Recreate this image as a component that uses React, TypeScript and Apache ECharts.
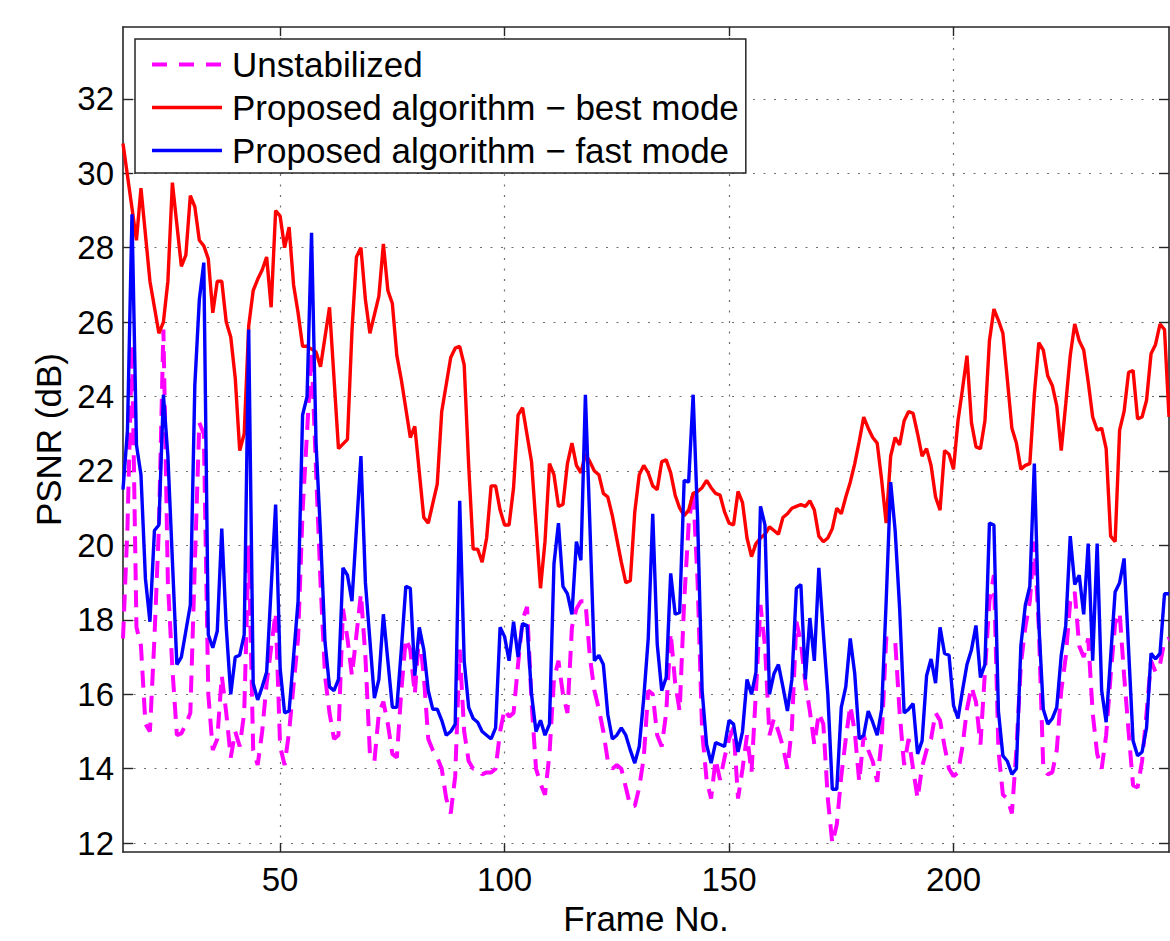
import React, { useEffect, useRef } from "react";
import * as echarts from "echarts";

const FONT = "'Liberation Sans', Arial, Helvetica, sans-serif";

const xTicks = [50, 100, 150, 200];
const yTicks = [12, 14, 16, 18, 20, 22, 24, 26, 28, 30, 32];
const X_MIN = 15;
const X_MAX = 248;
const Y_MIN = 11.76;
const Y_MAX = 33.93;

const seriesNames = [
  "Unstabilized",
  "Proposed algorithm \u2212 best mode",
  "Proposed algorithm \u2212 fast mode",
];

// [frame, PSNR dB]
const unstabilized: [number, number][] = [
  [15, 17.5], [16, 20.5], [17, 25.4], [18, 17.8], [19, 17.3], [20, 15.2], [21, 15.0], [22, 17.5], [23, 20.5], [24, 25.8],
  [25, 19.0], [26, 16.7], [27, 14.9], [28, 14.95], [29, 15.2], [30, 15.5], [31, 19.5], [32, 23.3], [33, 23.0], [34, 16.0],
  [35, 14.5], [36, 14.8], [37, 16.5], [38, 15.5], [39, 14.3], [40, 15.0], [41, 14.6], [42, 15.5], [43, 20.0], [44, 14.5],
  [45, 14.1], [46, 15.0], [47, 16.3], [49, 18.2], [50, 14.6], [51, 14.1], [52, 15.0], [54, 17.5], [55, 20.9], [57, 25.2],
  [58, 22.0], [59, 19.0], [60, 16.5], [61, 15.5], [62, 14.8], [63, 14.9], [64, 18.3], [65, 17.5], [66, 16.5], [68, 18.7],
  [69, 17.0], [70, 14.4], [71, 14.2], [72, 15.5], [73, 15.8], [74, 15.2], [75, 14.4], [76, 14.3], [77, 16.1], [78, 17.5],
  [79, 17.2], [80, 16.0], [81, 17.65], [82, 16.5], [83, 14.8], [84, 14.5], [85, 14.3], [86, 14.0], [87, 13.2], [88, 12.8],
  [89, 13.8], [90, 17.2], [91, 15.0], [92, 14.2], [93, 14.0], [94, 14.0], [95, 13.85], [96, 13.9], [97, 13.9], [98, 14.0],
  [99, 15.0], [100, 15.6], [101, 15.4], [102, 15.5], [103, 16.8], [104, 18.0], [105, 18.35], [106, 15.8], [107, 14.0], [108, 13.6],
  [109, 13.3], [110, 14.4], [111, 16.4], [112, 16.9], [113, 16.0], [114, 15.5], [115, 17.8], [116, 18.3], [117, 18.5], [118, 18.5],
  [119, 17.0], [120, 16.1], [121, 15.6], [122, 15.0], [123, 14.2], [124, 14.0], [125, 14.1], [126, 14.0], [127, 13.5], [128, 13.0],
  [129, 13.0], [130, 13.5], [131, 14.3], [132, 16.1], [133, 16.0], [134, 14.9], [135, 14.6], [136, 15.5], [137, 17.65], [138, 16.3],
  [139, 15.55], [140, 18.5], [141, 20.55], [142, 21.5], [143, 19.0], [144, 15.0], [145, 13.7], [146, 13.2], [147, 14.25], [148, 13.7],
  [149, 14.3], [150, 14.8], [151, 15.1], [152, 13.2], [153, 14.0], [154, 14.9], [155, 13.9], [156, 16.1], [157, 18.4], [158, 17.3],
  [159, 14.9], [160, 15.35], [161, 15.0], [162, 14.6], [163, 14.0], [164, 15.1], [165, 17.95], [166, 17.4], [167, 16.3], [168, 15.55],
  [169, 14.65], [170, 15.5], [171, 15.2], [172, 13.2], [173, 12.0], [174, 12.5], [175, 13.8], [176, 14.8], [177, 15.7], [178, 15.0],
  [179, 13.65], [180, 14.9], [181, 14.5], [182, 14.2], [183, 13.65], [184, 14.8], [185, 17.5], [186, 17.5], [187, 17.45], [188, 15.5],
  [189, 14.1], [190, 14.8], [191, 14.0], [192, 13.2], [193, 14.05], [194, 14.5], [195, 14.8], [196, 15.5], [197, 15.3], [198, 14.6],
  [199, 14.0], [200, 13.8], [201, 13.9], [202, 14.6], [203, 15.6], [204, 16.2], [205, 15.8], [206, 14.65], [207, 16.6], [208, 18.5],
  [209, 19.2], [210, 14.5], [211, 13.3], [212, 13.2], [213, 12.8], [214, 14.5], [215, 16.8], [216, 17.8], [217, 18.5], [218, 20.1],
  [219, 17.8], [220, 14.0], [221, 13.85], [222, 13.9], [223, 14.5], [224, 16.1], [225, 17.0], [226, 18.5], [227, 18.75], [228, 17.3],
  [229, 17.0], [230, 17.5], [231, 15.5], [232, 14.4], [233, 14.0], [234, 14.9], [235, 16.5], [236, 17.9], [237, 18.2], [238, 16.5],
  [239, 15.0], [240, 13.55], [241, 13.5], [242, 14.2], [243, 15.5], [244, 16.9], [245, 16.6], [246, 16.8], [247, 17.45], [248, 17.5],
];

const bestMode: [number, number][] = [
  [15, 30.8], [18, 28.2], [19, 29.6], [21, 27.1], [23, 25.7], [24, 26.0], [25, 27.1], [26, 29.75], [28, 27.5], [29, 27.8],
  [30, 29.4], [31, 29.1], [32, 28.2], [33, 28.05], [34, 27.7], [35, 26.25], [36, 27.1], [37, 27.1], [38, 26.0], [39, 25.6],
  [40, 24.5], [41, 22.55], [42, 23.0], [43, 25.9], [44, 26.85], [45, 27.15], [46, 27.4], [47, 27.75], [48, 26.4], [49, 29.0],
  [50, 28.85], [51, 28.0], [52, 28.55], [53, 27.0], [54, 26.25], [55, 25.35], [56, 25.35], [58, 25.2], [59, 24.8], [61, 26.4],
  [63, 22.6], [65, 22.85], [66, 25.75], [67, 27.75], [68, 28.0], [69, 26.6], [70, 25.7], [72, 26.7], [73, 28.1], [74, 26.85],
  [75, 26.5], [76, 25.1], [77, 24.45], [79, 22.9], [80, 23.2], [82, 20.75], [83, 20.6], [85, 21.65], [86, 23.6], [88, 25.05],
  [89, 25.3], [90, 25.35], [91, 24.85], [92, 22.15], [93, 19.9], [94, 19.9], [95, 19.55], [96, 20.2], [97, 21.6], [98, 21.6],
  [99, 20.95], [100, 20.55], [101, 20.55], [102, 21.55], [103, 23.5], [104, 23.7], [106, 22.25], [108, 18.85], [109, 20.1], [110, 22.2],
  [111, 21.9], [112, 21.05], [113, 21.1], [114, 22.2], [115, 22.75], [116, 22.15], [117, 21.95], [118, 22.45], [119, 22.25], [120, 22.0],
  [121, 21.9], [122, 21.4], [123, 21.3], [124, 20.8], [126, 19.55], [127, 19.0], [128, 19.05], [129, 20.9], [130, 21.9], [131, 22.15],
  [132, 21.95], [133, 21.6], [134, 21.5], [135, 22.25], [136, 22.3], [137, 21.95], [138, 21.35], [139, 21.0], [140, 20.8], [141, 20.95],
  [142, 21.4], [143, 21.45], [144, 21.55], [145, 21.75], [146, 21.55], [147, 21.4], [148, 21.35], [149, 20.9], [150, 20.6], [151, 20.55],
  [152, 21.45], [153, 21.15], [154, 20.2], [155, 19.7], [156, 20.05], [157, 20.2], [158, 20.3], [159, 20.5], [160, 20.4], [161, 20.3],
  [162, 20.75], [163, 20.85], [164, 21.0], [165, 21.05], [166, 21.1], [167, 21.05], [168, 21.2], [169, 20.95], [170, 20.25], [171, 20.1],
  [172, 20.2], [173, 20.45], [174, 21.0], [175, 20.85], [176, 21.3], [177, 21.7], [178, 22.2], [179, 22.8], [180, 23.45], [181, 23.15],
  [182, 22.9], [183, 22.75], [184, 21.75], [185, 20.6], [186, 22.4], [187, 22.9], [188, 22.7], [189, 23.35], [190, 23.6], [191, 23.55],
  [192, 23.0], [193, 22.4], [194, 22.6], [195, 22.15], [196, 21.3], [197, 20.95], [198, 22.55], [199, 22.45], [200, 22.05], [201, 23.35],
  [202, 24.2], [203, 25.1], [204, 23.3], [205, 22.65], [206, 22.6], [207, 23.35], [208, 25.5], [209, 26.35], [210, 26.05], [211, 25.7],
  [212, 24.45], [213, 23.15], [214, 22.75], [215, 22.05], [216, 22.15], [217, 22.2], [218, 24.05], [219, 25.45], [220, 25.25], [221, 24.55],
  [222, 24.3], [223, 23.75], [224, 22.55], [225, 23.8], [226, 25.1], [227, 25.95], [228, 25.5], [229, 25.25], [230, 24.4], [231, 23.45],
  [232, 23.1], [233, 23.15], [234, 22.6], [235, 20.25], [236, 20.1], [237, 23.1], [238, 23.6], [239, 24.65], [240, 24.7], [241, 23.4],
  [242, 23.45], [243, 23.9], [244, 25.15], [245, 25.4], [246, 25.95], [247, 25.8], [248, 23.45],
];

const fastMode: [number, number][] = [
  [15, 21.5], [16, 23.1], [17, 28.9], [18, 22.7], [19, 21.9], [20, 19.1], [21, 17.95], [22, 20.4], [23, 20.55], [24, 24.05],
  [25, 22.4], [27, 16.8], [28, 17.0], [29, 17.7], [30, 18.4], [31, 24.3], [32, 26.6], [33, 27.6], [34, 17.6], [35, 17.25],
  [36, 17.7], [37, 20.45], [38, 17.8], [39, 16.0], [40, 17.0], [41, 17.05], [42, 17.6], [43, 25.8], [44, 16.3], [45, 15.85],
  [46, 16.2], [47, 16.6], [49, 21.1], [50, 16.7], [51, 15.5], [52, 15.55], [54, 18.5], [55, 23.5], [56, 24.0], [57, 28.4],
  [58, 22.75], [59, 20.3], [60, 17.4], [61, 16.2], [62, 16.1], [63, 16.4], [64, 19.4], [65, 19.2], [66, 18.5], [68, 22.4],
  [69, 19.0], [71, 15.9], [72, 16.4], [73, 18.15], [74, 16.9], [75, 15.65], [76, 15.65], [77, 17.2], [78, 18.9], [79, 18.85],
  [80, 16.5], [81, 17.8], [82, 17.2], [83, 16.1], [84, 15.6], [85, 15.6], [86, 15.3], [87, 14.9], [88, 15.0], [89, 15.2],
  [90, 21.2], [91, 16.9], [92, 15.65], [93, 15.35], [94, 15.25], [95, 15.0], [96, 14.9], [97, 14.8], [98, 15.1], [99, 17.8],
  [100, 17.55], [101, 16.9], [102, 17.95], [103, 17.0], [104, 17.9], [105, 17.85], [106, 16.0], [107, 15.0], [108, 15.3], [109, 14.9],
  [110, 15.2], [111, 19.5], [112, 20.6], [113, 18.9], [114, 18.7], [115, 18.15], [116, 20.1], [117, 19.6], [118, 24.05], [119, 20.55],
  [120, 16.9], [121, 17.05], [122, 16.8], [123, 15.45], [124, 14.8], [125, 14.9], [126, 15.1], [127, 14.9], [128, 14.5], [129, 14.15],
  [130, 14.6], [131, 15.9], [132, 17.5], [133, 20.85], [134, 17.35], [135, 16.1], [136, 16.45], [137, 19.25], [138, 18.15], [139, 18.2],
  [140, 21.75], [141, 21.7], [142, 24.05], [143, 20.7], [144, 16.1], [145, 14.65], [146, 14.15], [147, 14.7], [148, 14.65], [149, 14.6],
  [150, 15.3], [151, 15.2], [152, 14.45], [153, 15.0], [154, 16.4], [155, 16.0], [156, 16.6], [157, 21.05], [158, 20.55], [159, 16.0],
  [160, 16.55], [161, 16.8], [162, 16.2], [163, 15.55], [164, 16.4], [165, 18.85], [166, 18.95], [167, 16.4], [168, 18.05], [169, 16.9],
  [170, 19.4], [171, 17.65], [172, 16.0], [173, 13.45], [174, 13.45], [175, 15.65], [176, 16.2], [177, 17.5], [178, 16.55], [179, 14.8],
  [180, 14.9], [181, 15.55], [182, 15.25], [183, 14.9], [184, 15.6], [185, 18.5], [186, 21.7], [187, 20.4], [188, 18.3], [189, 15.5],
  [190, 15.6], [191, 15.75], [192, 14.4], [193, 14.75], [194, 16.5], [195, 16.95], [196, 16.3], [197, 17.8], [198, 17.1], [199, 17.05],
  [200, 15.7], [201, 15.35], [202, 16.1], [203, 16.8], [204, 17.2], [205, 17.85], [206, 16.45], [207, 16.8], [208, 20.6], [209, 20.55],
  [210, 15.55], [211, 14.35], [212, 14.2], [213, 13.85], [214, 14.0], [215, 17.3], [216, 18.4], [217, 18.9], [218, 22.2], [219, 17.9],
  [220, 15.6], [221, 15.2], [222, 15.35], [223, 15.65], [224, 17.05], [225, 17.85], [226, 20.25], [227, 18.95], [228, 19.2], [229, 18.15],
  [230, 20.05], [231, 16.9], [232, 20.05], [233, 16.1], [234, 15.25], [235, 17.0], [236, 18.75], [237, 19.0], [238, 19.65], [239, 17.2],
  [240, 14.75], [241, 14.35], [242, 14.45], [243, 15.1], [244, 17.1], [245, 16.95], [246, 17.1], [247, 18.7], [248, 18.7],
];

const AXIS_COLOR = "#262626";

export default function App() {
  const ref = useRef<HTMLDivElement>(null);

  useEffect(() => {
    if (!ref.current) return;
    const chart = echarts.init(ref.current, undefined, { renderer: "svg" });

    const axisLine = { show: true, onZero: false, lineStyle: { color: AXIS_COLOR, width: 1.6 } };
    const tickStyle = { color: AXIS_COLOR, width: 1.4 };
    const gridLine = { show: true, lineStyle: { color: "#6e6e6e", width: 1.2, type: [2, 8.5] as any } };

    chart.setOption({
      animation: false,
      backgroundColor: "#ffffff",
      grid: { left: 123, right: 1, top: 27, bottom: 85 },
      legend: {
        show: true,
        orient: "vertical",
        left: 135,
        top: 39,
        itemWidth: 70,
        itemHeight: 14,
        itemGap: 8,
        padding: [8, 7, 5, 15],
        backgroundColor: "#ffffff",
        borderColor: AXIS_COLOR,
        borderWidth: 1.5,
        borderRadius: 0,
        z: 10,
        itemStyle: { opacity: 0, borderWidth: 0 },
        textStyle: { fontSize: 35, fontFamily: FONT, color: "#000", padding: [0, 0, 0, 5] },
        data: [
          { name: seriesNames[0], lineStyle: { width: 4, color: "#ff00ff", type: [15, 12] }, itemStyle: { opacity: 0 } },
          { name: seriesNames[1], lineStyle: { width: 3.5, color: "#ff0000" }, itemStyle: { opacity: 0 } },
          { name: seriesNames[2], lineStyle: { width: 3.5, color: "#0000ff" }, itemStyle: { opacity: 0 } },
        ],
      },
      xAxis: [
        {
          type: "value",
          min: X_MIN,
          max: X_MAX,
          position: "bottom",
          axisLine,
          axisTick: { show: true, inside: true, length: 9, customValues: xTicks, lineStyle: tickStyle },
          axisLabel: { show: true, customValues: xTicks, fontSize: 33, margin: 11, color: "#000", fontFamily: FONT },
          splitLine: gridLine,
          name: "Frame No.",
          nameLocation: "middle",
          nameGap: 46,
          nameTextStyle: { fontSize: 35, fontFamily: FONT, color: "#000" },
        },
        {
          type: "value",
          min: X_MIN,
          max: X_MAX,
          position: "top",
          axisLine,
          axisTick: { show: true, inside: true, length: 9, customValues: xTicks, lineStyle: tickStyle },
          axisLabel: { show: false },
          splitLine: { show: false },
        },
      ],
      yAxis: [
        {
          type: "value",
          min: Y_MIN,
          max: Y_MAX,
          position: "left",
          axisLine,
          axisTick: { show: true, inside: true, length: 10, customValues: yTicks, lineStyle: tickStyle },
          axisLabel: { show: true, customValues: yTicks, fontSize: 33, margin: 9, color: "#000", fontFamily: FONT },
          splitLine: gridLine,
          name: "PSNR (dB)",
          nameLocation: "middle",
          nameGap: 57,
          nameTextStyle: { fontSize: 35, fontFamily: FONT, color: "#000" },
        },
        {
          type: "value",
          min: Y_MIN,
          max: Y_MAX,
          position: "right",
          axisLine,
          axisTick: { show: true, inside: true, length: 10, customValues: yTicks, lineStyle: tickStyle },
          axisLabel: { show: false },
          splitLine: { show: false },
        },
      ],
      series: [
        {
          name: seriesNames[0],
          type: "line",
          data: unstabilized,
          symbol: "none",
          showSymbol: false,
          xAxisIndex: 0,
          yAxisIndex: 0,
          itemStyle: { color: "#ff00ff" },
          lineStyle: { color: "#ff00ff", width: 4, type: [17, 10] },
        },
        {
          name: seriesNames[1],
          type: "line",
          data: bestMode,
          symbol: "none",
          showSymbol: false,
          xAxisIndex: 0,
          yAxisIndex: 0,
          itemStyle: { color: "#ff0000" },
          lineStyle: { color: "#ff0000", width: 3.4 },
        },
        {
          name: seriesNames[2],
          type: "line",
          data: fastMode,
          symbol: "none",
          showSymbol: false,
          xAxisIndex: 0,
          yAxisIndex: 0,
          itemStyle: { color: "#0000ff" },
          lineStyle: { color: "#0000ff", width: 3.4 },
        },
      ],
    });

    return () => chart.dispose();
  }, []);

  return (
    <div
      ref={ref}
      style={{ position: "fixed", left: 0, top: 0, width: 1170, height: 941, background: "#fff" }}
    />
  );
}
